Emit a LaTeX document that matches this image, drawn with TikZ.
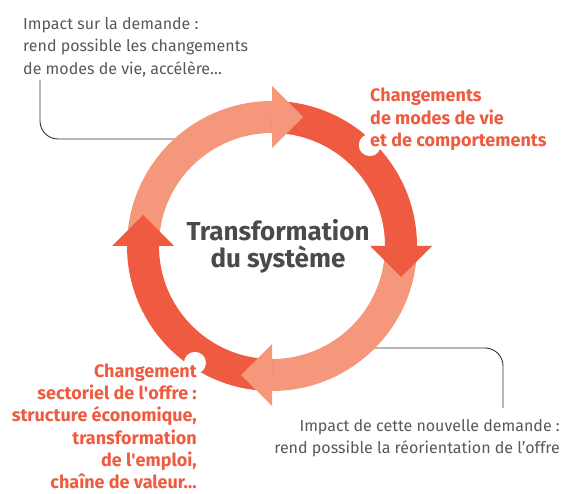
\documentclass[tikz,border=0pt]{standalone}
\usepackage{fontspec}
\setmainfont{Fira Sans}
\usetikzlibrary{calc}

\definecolor{saumon}{HTML}{F5977B}
\definecolor{corail}{HTML}{EF5B40}
\definecolor{gristexte}{HTML}{58585A}
\definecolor{griscentre}{HTML}{4A4A4C}

\begin{document}
\begin{tikzpicture}[x=1pt,y=1pt,
    note/.style={inner sep=0pt, text=gristexte, font=\fontsize{16}{22.5}\selectfont},
    effet/.style={inner sep=0pt, text=corail, font=\fontsize{18}{22.3}\selectfont\bfseries},
    renvoi/.style={draw=black!80, line width=0.9pt, rounded corners=18pt}]

    \useasboundingbox (0,0) rectangle (562,493);
    \coordinate (C) at (272,247);

    % leader lines, the ring covers their inner ends
    \coordinate (impdem-pied) at (40,413);
    \coordinate (anneau-no) at (185,354);
    \coordinate (anneau-se) at (365,145);
    \coordinate (impoffre-tete) at (503,85);
    \draw[renvoi] (impdem-pied) |- (anneau-no);
    \draw[renvoi] (anneau-se) -| (impoffre-tete);

    % ring: four quarter arcs, light and dark in turn
    \foreach \a/\col in {180/saumon, 90/corail, 0/saumon, -90/corail}{
        \draw[\col, line width=32pt] ($(C)+(\a:129)$) arc[start angle=\a, end angle=\a-90, radius=129];
    }
    % arrow heads closing each arc
    \foreach \a/\col in {90/saumon, 0/corail, -90/saumon, -180/corail}{
        \fill[\col] ($(C)+(\a:160)$) -- ($(C)+(\a:129)+(\a-90:31)$) -- ($(C)+(\a:98)$) -- cycle;
    }
    % white bites in the outer edge
    \fill[white] ($(C)+(45.9:140.5)$) circle (11);
    \fill[white] ($(C)+(236.6:140)$) circle (11);

    % texts around the cycle
    \node[note, anchor=north west, align=left] (impdem) at (23,476)
        {Impact sur la demande :\\rend possible les changements\\de modes de vie, accélère…};
    \node[effet, anchor=north west, align=left] (changmodes) at (370,405)
        {Changements\\de modes de vie\\et de comportements};
    \node[effet, anchor=north east, align=right, text depth=0pt] (changoffre) at (197,129.5)
        {Changement\\sectoriel de l\textquotesingle offre :\\structure économique,\\transformation\\de l\textquotesingle emploi,\\chaîne de valeur…};
    \node[note, anchor=north east, align=right] (impoffre) at (560,74)
        {Impact de cette nouvelle demande :\\rend possible la réorientation de l’offre};

    \node[text=griscentre, font=\fontsize{26}{27}\selectfont\bfseries, align=center, inner sep=0pt] (centre) at (278,247)
        {Transformation\\du système};
\end{tikzpicture}
\end{document}
